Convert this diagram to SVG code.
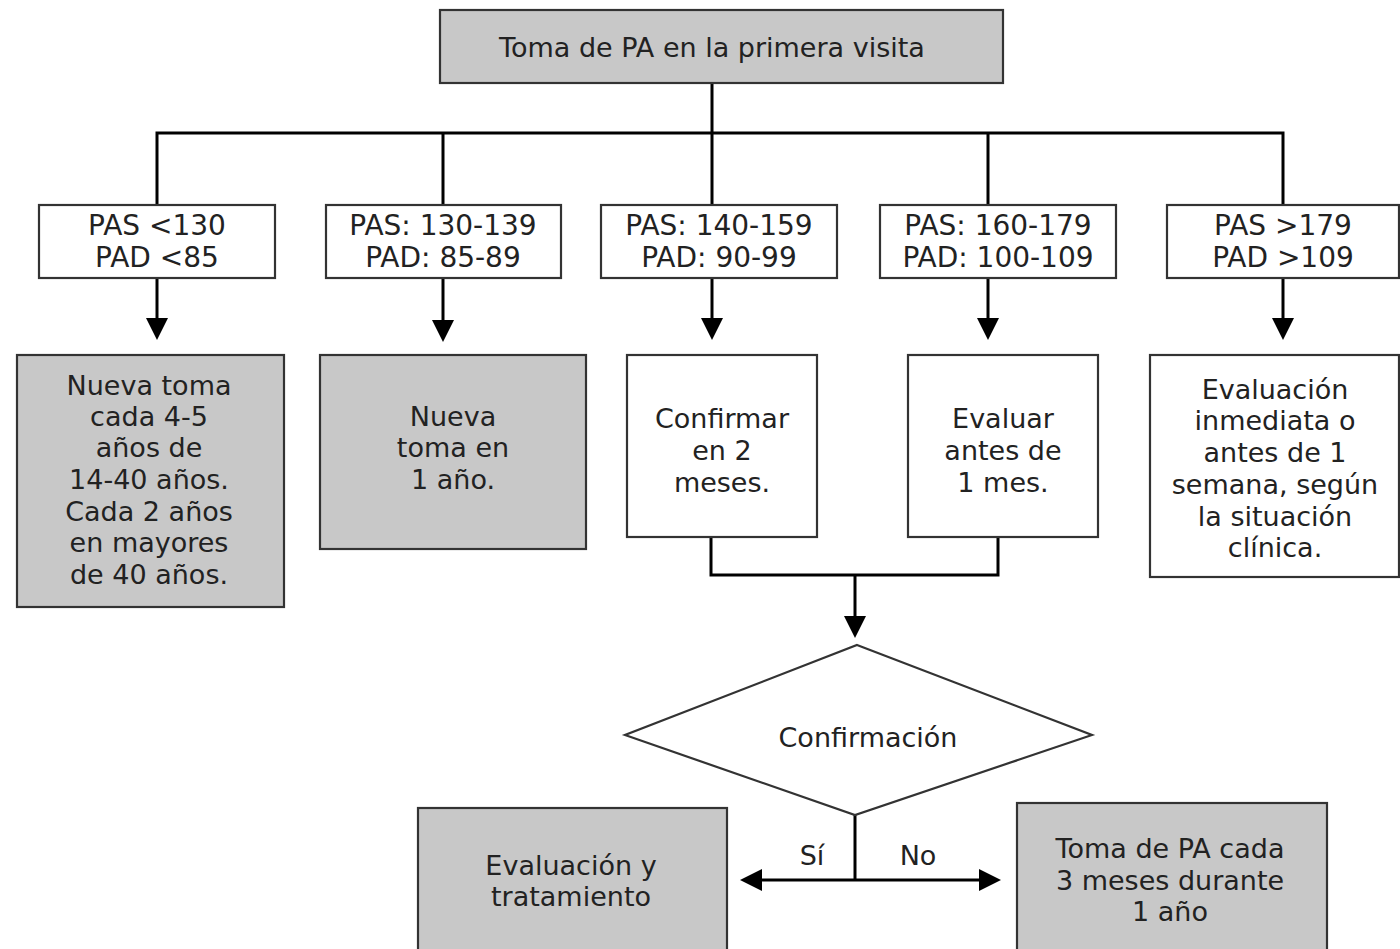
<svg xmlns="http://www.w3.org/2000/svg" width="1400" height="949" viewBox="0 0 1400 949">
<style>
.box{stroke:#333;stroke-width:2.2}
.g{fill:#c8c8c8}
.w{fill:#fff}
.t{font-family:"DejaVu Sans","Liberation Sans",sans-serif;font-size:27px;fill:#222;text-anchor:middle}
.h{font-size:28px}
.c{fill:none;stroke:#000;stroke-width:3}
</style>
<defs>
<marker id="ah" viewBox="0 0 22 22" refX="16" refY="11" markerWidth="22" markerHeight="22" markerUnits="userSpaceOnUse" orient="auto">
<path d="M0,0 L22,11 L0,22 z" fill="#000"/>
</marker>
</defs>
<rect width="1400" height="949" fill="#fff"/>
<g id="connectors">
<path class="c" d="M712,83 V133 M157,205 V133 H1283 V205 M443,133 V205 M712,133 V205 M988,133 V205"/>
<path class="c" marker-end="url(#ah)" d="M157,278 V334"/>
<path class="c" marker-end="url(#ah)" d="M443,278 V336"/>
<path class="c" marker-end="url(#ah)" d="M712,278 V334"/>
<path class="c" marker-end="url(#ah)" d="M988,278 V334"/>
<path class="c" marker-end="url(#ah)" d="M1283,278 V334"/>
<path class="c" d="M711,537 V575 H998 V537"/>
<path class="c" marker-end="url(#ah)" d="M855,575 V632"/>
<path class="c" d="M855,815 V880"/>
<path class="c" marker-end="url(#ah)" d="M855,880 H746"/>
<path class="c" marker-end="url(#ah)" d="M855,880 H995"/>
<text class="t" x="812" y="865">Sí</text>
<text class="t" x="918" y="865">No</text>
</g>
<g id="top">
<rect class="box g" x="440" y="10" width="563" height="73"/>
<text class="t" x="712" y="57">Toma de PA en la primera visita</text>
</g>
<g id="r1">
<rect class="box w" x="39" y="205" width="236" height="73"/>
<text class="t h" x="157" y="235">PAS &lt;130</text>
<text class="t h" x="157" y="267">PAD &lt;85</text>
</g>
<g id="r2">
<rect class="box w" x="326" y="205" width="235" height="73"/>
<text class="t h" x="443" y="235">PAS: 130-139</text>
<text class="t h" x="443" y="267">PAD: 85-89</text>
</g>
<g id="r3">
<rect class="box w" x="601" y="205" width="236" height="73"/>
<text class="t h" x="719" y="235">PAS: 140-159</text>
<text class="t h" x="719" y="267">PAD: 90-99</text>
</g>
<g id="r4">
<rect class="box w" x="880" y="205" width="236" height="73"/>
<text class="t h" x="998" y="235">PAS: 160-179</text>
<text class="t h" x="998" y="267">PAD: 100-109</text>
</g>
<g id="r5">
<rect class="box w" x="1167" y="205" width="232" height="73"/>
<text class="t h" x="1283" y="235">PAS &gt;179</text>
<text class="t h" x="1283" y="267">PAD &gt;109</text>
</g>
<g id="a1">
<rect class="box g" x="17" y="355" width="267" height="252"/>
<text class="t" x="149" y="395">Nueva toma</text>
<text class="t" x="149" y="426">cada 4-5</text>
<text class="t" x="149" y="457">años de</text>
<text class="t" x="149" y="489">14-40 años.</text>
<text class="t" x="149" y="521">Cada 2 años</text>
<text class="t" x="149" y="552">en mayores</text>
<text class="t" x="149" y="584">de 40 años.</text>
</g>
<g id="a2">
<rect class="box g" x="320" y="355" width="266" height="194"/>
<text class="t" x="453" y="426">Nueva</text>
<text class="t" x="453" y="457">toma en</text>
<text class="t" x="453" y="489">1 año.</text>
</g>
<g id="a3">
<rect class="box w" x="627" y="355" width="190" height="182"/>
<text class="t" x="722" y="428">Confirmar</text>
<text class="t" x="722" y="460">en 2</text>
<text class="t" x="722" y="492">meses.</text>
</g>
<g id="a4">
<rect class="box w" x="908" y="355" width="190" height="182"/>
<text class="t" x="1003" y="428">Evaluar</text>
<text class="t" x="1003" y="460">antes de</text>
<text class="t" x="1003" y="492">1 mes.</text>
</g>
<g id="a5">
<rect class="box w" x="1150" y="355" width="249" height="222"/>
<text class="t" x="1275" y="399">Evaluación</text>
<text class="t" x="1275" y="430">inmediata o</text>
<text class="t" x="1275" y="462">antes de 1</text>
<text class="t" x="1275" y="494">semana, según</text>
<text class="t" x="1275" y="526">la situación</text>
<text class="t" x="1275" y="557">clínica.</text>
</g>
<g id="decision">
<polygon class="box w" points="857,645 1092,735 855,815 625,735"/>
<text class="t" x="868" y="747">Confirmación</text>
</g>
<g id="yes">
<rect class="box g" x="418" y="808" width="309" height="160"/>
<text class="t" x="571" y="875">Evaluación y</text>
<text class="t" x="571" y="906">tratamiento</text>
</g>
<g id="no">
<rect class="box g" x="1017" y="803" width="310" height="165"/>
<text class="t" x="1170" y="858">Toma de PA cada</text>
<text class="t" x="1170" y="890">3 meses durante</text>
<text class="t" x="1170" y="921">1 año</text>
</g>
</svg>
